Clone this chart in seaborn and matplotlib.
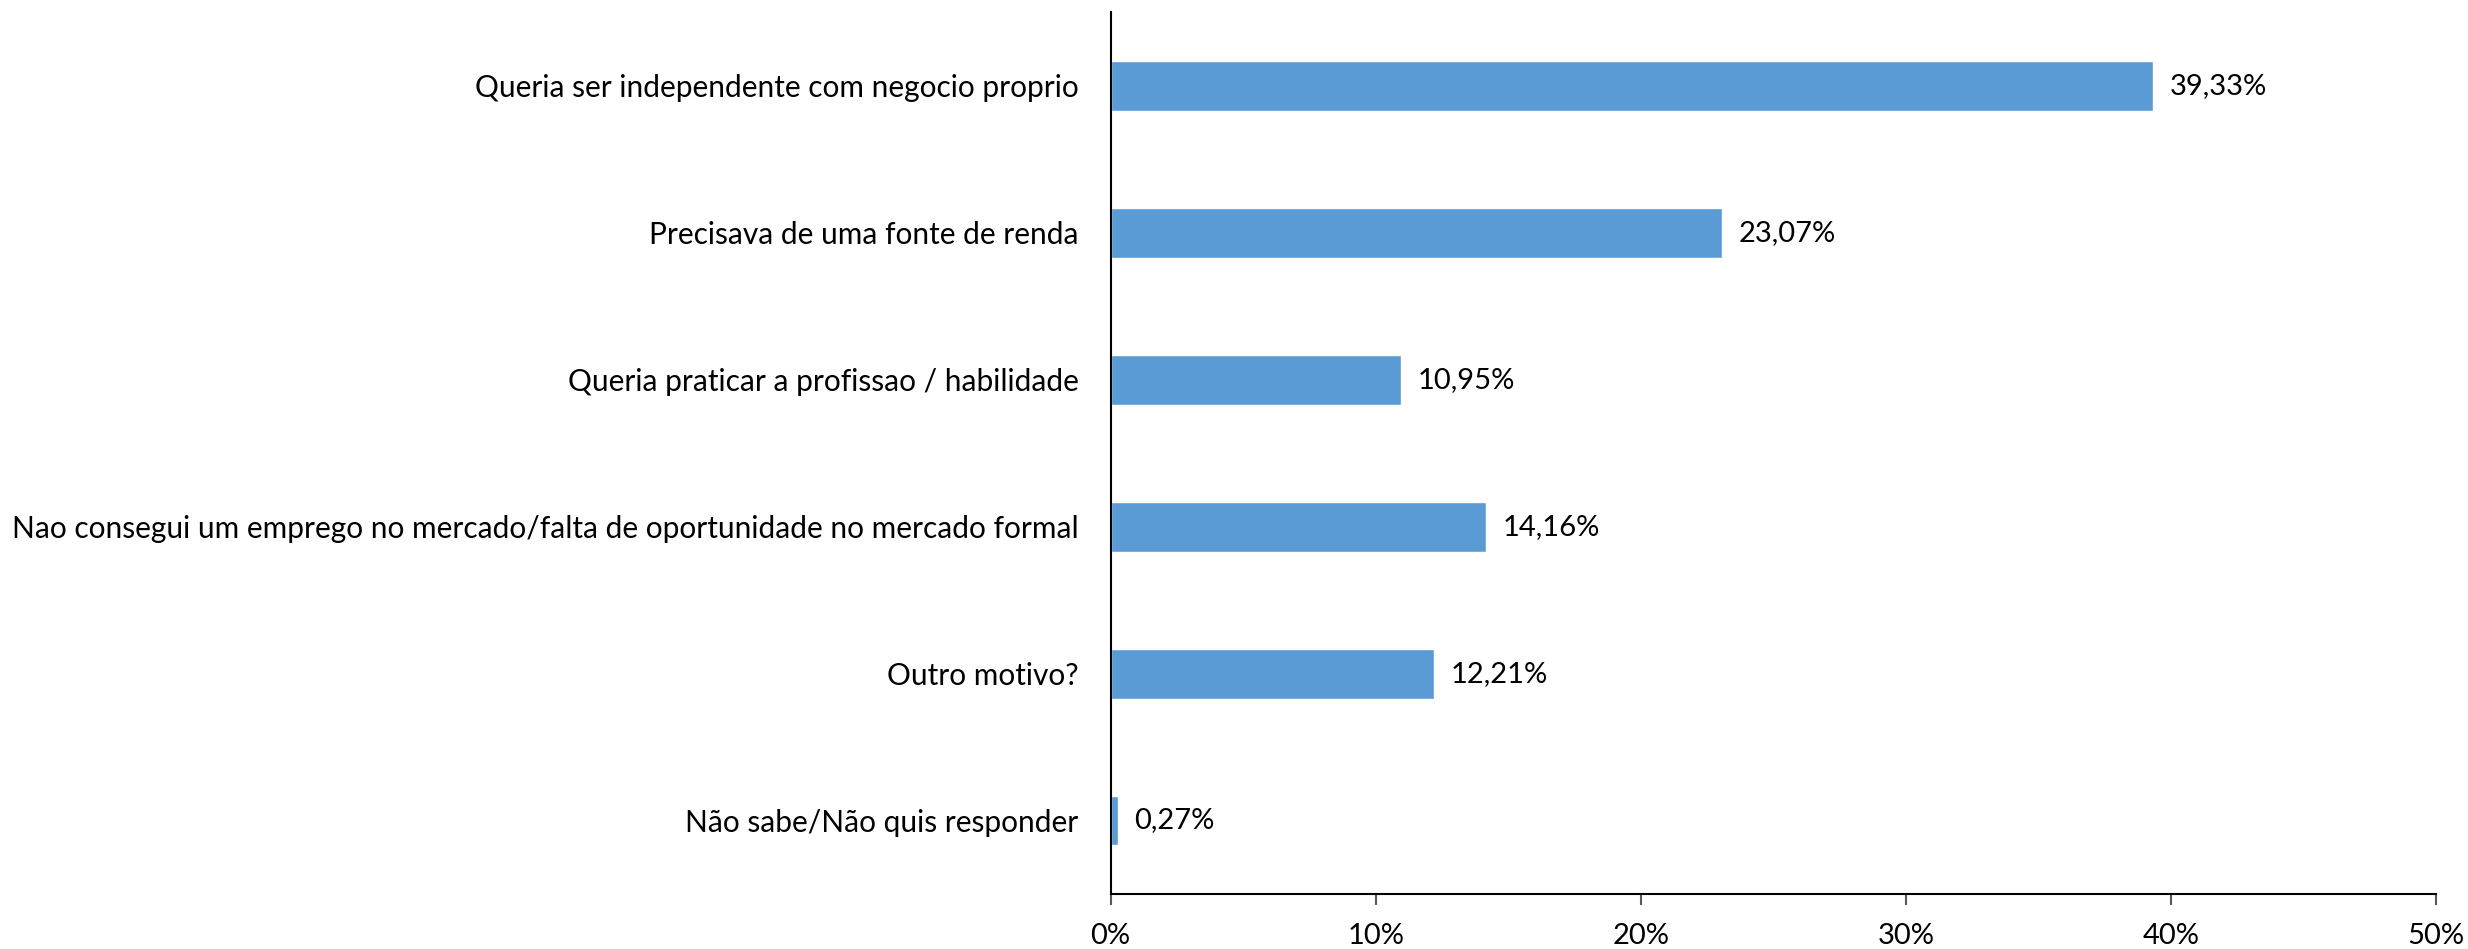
import matplotlib
matplotlib.use("Agg")
import matplotlib.pyplot as plt
import pandas as pd
import seaborn as sns

# ---------------------------------------------------------------
# data
# ---------------------------------------------------------------
MOTIVOS = [
    "Queria ser independente com negocio proprio",
    "Precisava de uma fonte de renda",
    "Queria praticar a profissao / habilidade",
    "Nao consegui um emprego no mercado/falta de oportunidade no mercado formal",
    "Outro motivo?",
    "Não sabe/Não quis responder",
]
PERCENTUAIS = [39.33, 23.07, 10.95, 14.16, 12.21, 0.27]
X_TICKS = [0, 10, 20, 30, 40, 50]

BAR_COLOR = "#5B9BD5"

sns.set_theme(style="white")
plt.rcParams["font.family"] = ["Lato", "DejaVu Sans"]

df = pd.DataFrame({"motivo": MOTIVOS, "pct": PERCENTUAIS})

fig = plt.figure(figsize=(24.68, 9.49), dpi=100)
ax = fig.add_axes([0.450, 0.058, 0.537, 0.929])

sns.barplot(data=df, x="pct", y="motivo", orient="h", color=BAR_COLOR,
            saturation=1, width=0.34, order=MOTIVOS, ax=ax)

labels = [f"{v:.2f}".replace(".", ",") + "%" for v in PERCENTUAIS]
ax.bar_label(ax.containers[0], labels=labels, padding=12, fontsize=21, color="black")

ax.set_xlim(0, 50)
ax.set_ylim(len(MOTIVOS) - 0.5, -0.5)
ax.set_xticks(X_TICKS)
ax.set_xticklabels([f"{t}%" for t in X_TICKS])
ax.set_xlabel("")
ax.set_ylabel("")

for side in ["top", "right"]:
    ax.spines[side].set_visible(False)
ax.spines["left"].set_color("black")
ax.spines["bottom"].set_color("black")
ax.spines["left"].set_linewidth(1.5)
ax.spines["bottom"].set_linewidth(1.5)

ax.tick_params(axis="x", which="major", bottom=True, length=8, width=1.5,
               color="#595959", labelsize=21, pad=13, labelcolor="black")
ax.tick_params(axis="y", left=False, labelsize=21.5, pad=17, labelcolor="black")

fig.savefig("out.png", dpi=100)
